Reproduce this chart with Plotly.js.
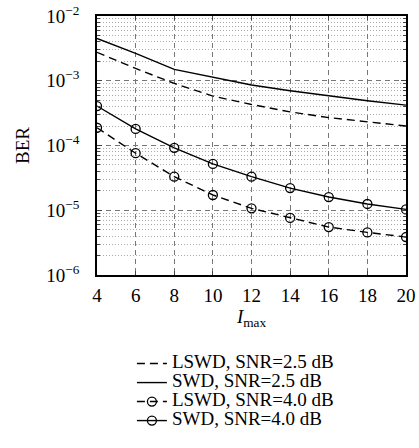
<!DOCTYPE html>
<html><head><meta charset="utf-8">
<script src="https://cdn.plot.ly/plotly-3.0.1.min.js"></script>
<style>html,body{margin:0;padding:0;background:#fff}#plot{width:419px;height:448px}</style>
</head><body><div id="plot"></div>
<script>
const imax = [4, 6, 8, 10, 12, 14, 16, 18, 20];
const lswd25 = [2.75e-3, 1.55e-3, 9.1e-4, 5.8e-4, 4.3e-4, 3.3e-4, 2.7e-4, 2.3e-4, 2.0e-4];
const swd25  = [4.5e-3, 2.65e-3, 1.5e-3, 1.13e-3, 8.6e-4, 7.0e-4, 5.8e-4, 4.9e-4, 4.2e-4];
const lswd40 = [1.88e-4, 7.6e-5, 3.3e-5, 1.72e-5, 1.07e-5, 7.6e-6, 5.5e-6, 4.55e-6, 3.86e-6];
const swd40  = [4.07e-4, 1.8e-4, 9.2e-5, 5.2e-5, 3.3e-5, 2.2e-5, 1.6e-5, 1.25e-5, 1.03e-5];
const names = ['LSWD, SNR=2.5 dB', 'SWD, SNR=2.5 dB', 'LSWD, SNR=4.0 dB', 'SWD, SNR=4.0 dB'];
const yTicks = [1e-6, 1e-5, 1e-4, 1e-3, 1e-2];
const yTickText = ['10<sup>\u22126</sup>', '10<sup>\u22125</sup>', '10<sup>\u22124</sup>', '10<sup>\u22123</sup>', '10<sup>\u22122</sup>'];
const minorVals = [];
for (let e = -6; e < -2; e++) for (let m = 2; m <= 9; m++) minorVals.push(m * Math.pow(10, e));

const font = '"Liberation Serif"';
const dash = '8px,5px';
const legendName = n => '<span style="font-size:19px">' + n + '</span>';
const mk = {symbol: 'circle-open', size: 9, color: '#000', line: {width: 1.3, color: '#000'}};
const traces = [
  {x: imax, y: lswd25, name: legendName(names[0]), mode: 'lines', line: {color: '#000', width: 1.4, dash: dash}},
  {x: imax, y: swd25, name: legendName(names[1]), mode: 'lines', line: {color: '#000', width: 1.4}},
  {x: imax, y: lswd40, name: legendName(names[2]), mode: 'lines+markers', line: {color: '#000', width: 1.4, dash: dash}, marker: mk},
  {x: imax, y: swd40, name: legendName(names[3]), mode: 'lines+markers', line: {color: '#000', width: 1.4}, marker: mk}
];
const layout = {
  width: 419, height: 448,
  margin: {l: 97, r: 13, t: 16, b: 173},
  paper_bgcolor: '#fff', plot_bgcolor: '#fff',
  font: {family: font, size: 19, color: '#000'},
  showlegend: true,
  legend: {x: 0.113, xanchor: 'left', y: -0.286, yanchor: 'top', font: {family: font, size: 11.8}, bgcolor: 'rgba(0,0,0,0)', tracegroupgap: 0, itemwidth: 30},
  xaxis: {
    range: [4, 20], tickvals: imax, ticks: 'inside', ticklen: 4, mirror: 'ticks',
    showline: true, linecolor: '#000', linewidth: 1.5,
    showgrid: true, gridcolor: '#777', griddash: '5px,4px', gridwidth: 1,
    zeroline: false, tickfont: {family: font, size: 19}, ticklabelstandoff: 2,
    title: {text: '<i>I</i><sub>max</sub>', font: {family: font, size: 19}, standoff: 2}
  },
  yaxis: {
    type: 'log', range: [-6, -2], tickvals: yTicks, ticktext: yTickText,
    ticks: 'inside', ticklen: 5, mirror: 'ticks',
    showline: true, linecolor: '#000', linewidth: 1.5,
    showgrid: true, gridcolor: '#777', griddash: '5px,4px', gridwidth: 1,
    zeroline: false, tickfont: {family: font, size: 19}, ticklabelstandoff: 12,
    minor: {tickmode: 'array', tickvals: minorVals, ticks: 'inside', ticklen: 3, tickcolor: '#444', showgrid: true, gridcolor: '#aaa', griddash: '1px,2px', gridwidth: 1},
    title: {text: 'BER', font: {family: font, size: 19}, standoff: 12}
  }
};
Plotly.newPlot('plot', traces, layout, {displayModeBar: false});
</script></body></html>
